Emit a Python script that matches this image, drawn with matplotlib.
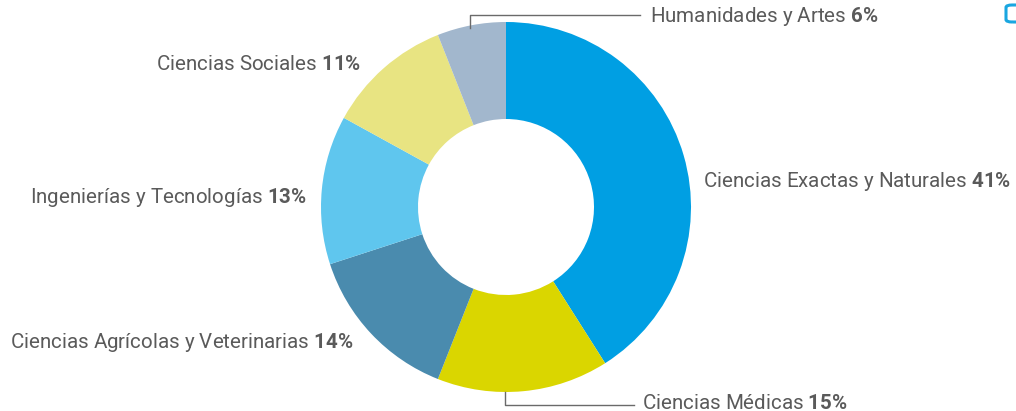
import matplotlib
matplotlib.use("Agg")
import matplotlib.pyplot as plt
from matplotlib.patches import FancyBboxPatch

# data
areas = ["Ciencias Exactas y Naturales", "Ciencias Médicas",
         "Ciencias Agrícolas y Veterinarias", "Ingenierías y Tecnologías",
         "Ciencias Sociales", "Humanidades y Artes"]
shares = [41, 15, 14, 13, 11, 6]
colors = ["#009FE3", "#DAD600", "#4A8BAE", "#5FC6EE", "#E8E482", "#A2B7CD"]

W, H = 1016, 411
plt.rcParams['font.family'] = ['Roboto', 'DejaVu Sans']
plt.rcParams['mathtext.fontset'] = 'custom'
plt.rcParams['mathtext.rm'] = 'Roboto'
plt.rcParams['mathtext.bf'] = 'Roboto:bold'
fig = plt.figure(figsize=(W / 100, H / 100), dpi=100)
ax = fig.add_axes([0, 0, 1, 1])

cx, cy, r = 506, H - 207, 185
ax.pie(shares, colors=colors, startangle=90, counterclock=False,
       center=(cx, cy), radius=r, frame=True,
       wedgeprops=dict(width=97, linewidth=0))
ax.set_xlim(0, W)
ax.set_ylim(0, H)
ax.set_aspect('equal')
ax.axis('off')

txt = "#5a5a5a"
# label positions (pixels, image coords), alignment
label_pos = {
    "Ciencias Exactas y Naturales": (703, 182, 'left'),
    "Ciencias Médicas": (642, 403, 'left'),
    "Ciencias Agrícolas y Veterinarias": (353, 343, 'right'),
    "Ingenierías y Tecnologías": (307, 198, 'right'),
    "Ciencias Sociales": (361, 65, 'right'),
    "Humanidades y Artes": (650, 17, 'left'),
}
for name, val in zip(areas, shares):
    x, y, ha = label_pos[name]
    ax.annotate(f"{name} $\\bf{{{val}\\%}}$", (x, H - y), ha=ha, va='center',
                fontsize=14.8, color=txt)

# leader lines
lc = "#6a6a6a"
ax.plot([470, 470, 640], [H - 28, H - 15, H - 15], color=lc, lw=1)
ax.plot([505, 505, 634], [H - 392, H - 405, H - 405], color=lc, lw=1)

# cropped button fragment at top right
fig.patches.append(FancyBboxPatch((1006 / W, 1 - 22 / H), 0.03, 17 / H,
                                  boxstyle="round,pad=0,rounding_size=0.006",
                                  transform=fig.transFigure, fill=False,
                                  edgecolor="#19A6E0", lw=2.2))

fig.savefig("out.png", dpi=100)
